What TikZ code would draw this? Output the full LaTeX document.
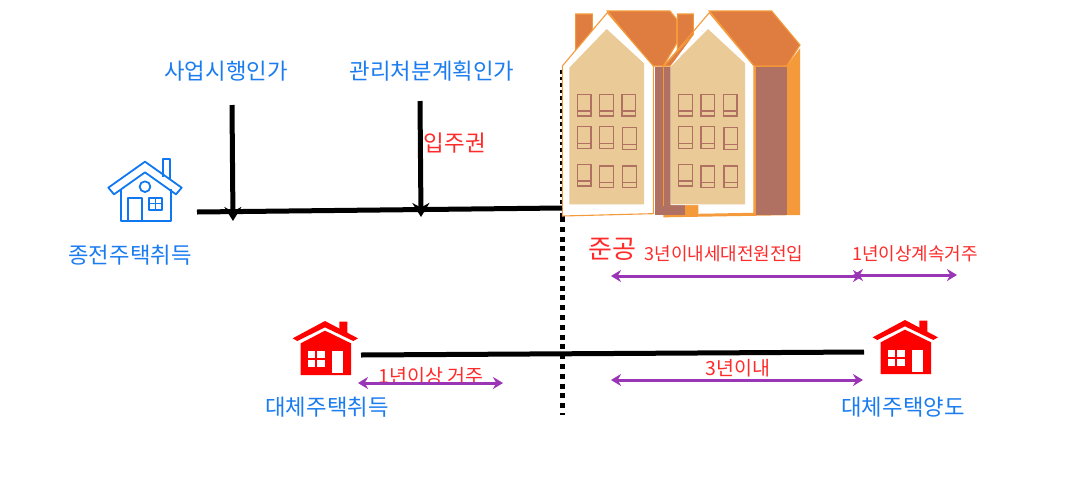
\documentclass[tikz,border=0pt]{standalone}
\usepackage{fontspec}
\setmainfont{Noto Sans CJK KR}
\usetikzlibrary{arrows.meta}
\definecolor{lblue}{HTML}{1A7CF0}
\definecolor{hblue}{HTML}{0F78F0}
\definecolor{lred}{HTML}{FF2A2A}
\definecolor{purp}{HTML}{9A35B5}
\definecolor{roof}{HTML}{DF7D40}
\definecolor{edge}{HTML}{F49A3A}
\definecolor{tan}{HTML}{EACB97}
\definecolor{brownw}{HTML}{B07062}
\tikzset{
  x=1pt,y=-1pt,
  bluelab/.style={text=lblue,font=\fontsize{22.3}{24}\selectfont,inner sep=0pt},
  redlab/.style={text=lred,font=\fontsize{18}{20}\selectfont,inner sep=0pt},
  redlabb/.style={text=lred,font=\fontsize{19.5}{21}\selectfont,inner sep=0pt},
  redbig/.style={text=lred,font=\fontsize{22.5}{24}\selectfont,inner sep=0pt},
  redjun/.style={text=lred,font=\fontsize{26}{28}\selectfont,inner sep=0pt},
  blackline/.style={line width=5pt,black},
  downarrow/.style={line width=5pt,black,-{Stealth[length=14pt,width=17pt]}},
  span/.style={line width=3pt,purp,{Stealth[length=10pt,width=12pt]}-{Stealth[length=10pt,width=12pt]}},
  dotline/.style={black,line width=5pt},
  facade/.style={fill=white,draw=edge,line width=1.1pt},
  roofp/.style={fill=roof,draw=edge,line width=1.1pt},
  winb/.style={draw=brownw,line width=1.6pt,fill=tan},
  bl/.style={draw=hblue,line width=1.8pt,line join=round,fill=none},
}
\newcommand{\winz}[2]{%
  \draw[winb] (#1,#2) rectangle ++(41,65);
  \draw[brownw,line width=1.6pt] (#1,#2+50) -- ++(41,0);
}
\newcommand{\winrows}[1]{%
  \winz{#1+82}{283}\winz{#1+149}{283}\winz{#1+216}{283}
  \winz{#1+82}{380}\winz{#1+149}{380}\winz{#1+218}{383}
  \winz{#1+82}{493}\winz{#1+149}{498}\winz{#1+218}{498}
}
\newcommand{\redhouse}[2]{%
  \begin{scope}[shift={(#1,#2)},xscale=1/3,yscale=1/3]
    \fill[red] (208,35)--(232,35)--(232,72)--(208,58)--cycle;
    \fill[red] (68,85)--(165,33)--(264,85)--(250,93)--(165,52)--(82,93)--cycle;
    \fill[red] (92,100)--(165,62)--(243,100)--(243,195)--(92,195)--cycle;
    \fill[white] (185,122) rectangle (220,188);
    \fill[white] (113,122) rectangle (165,172);
    \draw[red,line width=1.7pt] (139,122)--(139,172) (113,147)--(165,147);
  \end{scope}}
\begin{document}
\begin{tikzpicture}
\useasboundingbox (0,0) rectangle (1077,499);
\fill[white] (0,0) rectangle (1077,499);

% blue house
\begin{scope}[shift={(90,140)},xscale=1/3,yscale=1/3]
  \draw[bl] (218,110)--(218,58)--(240,58)--(240,118);
  \draw[bl] (55,143)--(165,65)--(275,143)--(258,163)--(165,97)--(72,163)--cycle;
  \draw[bl] (92,148)--(92,242)--(242,242)--(242,148);
  \draw[bl] (115,242)--(115,173)--(155,173)--(155,242);
  \draw[bl] (165,140) circle (16);
  \draw[bl] (177,173) rectangle (215,210);
  \draw[hblue,line width=1.4pt] (196,173)--(196,210) (177,191)--(215,191);
\end{scope}

% dotted line, behind the buildings
\coordinate (vs) at (562,70); \coordinate (vm) at (562,217); \coordinate (ve) at (562,415);
\draw[dotline,dash pattern=on 3.5pt off 3pt] (vs) -- (vm);
\draw[dotline,dash pattern=on 5pt off 4.8pt] (vm) -- (ve);

% buildings
\begin{scope}[shift={(550,0)},xscale=1/3,yscale=1/3]
  \fill[edge] (340,200)--(710,198)--(750,145)--(750,645)--(340,652)--cycle;
  \filldraw[roofp] (77,42)--(127,42)--(127,110)--(77,160)--cycle;
  \filldraw[roofp] (382,42)--(430,42)--(430,110)--(382,150)--cycle;
  \filldraw[roofp] (172,33)--(360,33)--(380,58)--(380,130)--(340,198)--(305,198)--cycle;
  \fill[brownw] (315,200) rectangle (405,645);
  \draw[edge,line width=1.1pt] (340,198)--(340,618);
  \fill[brownw] (617,200) rectangle (710,645);
  \filldraw[roofp] (478,33)--(665,33)--(750,135)--(710,198)--(612,198)--cycle;
  \filldraw[roofp] (340,198)--(430,105)--(445,125)--(362,198)--cycle;
  \filldraw[facade] (37,198)--(172,38)--(310,198)--(310,641)--(37,648)--cycle;
  \fill[white] (362,198)--(478,42)--(612,198)--(612,640)--(445,643)--(445,615)--(362,615)--cycle;
  \draw[edge,line width=1.1pt] (342,198)--(478,38)--(612,198)--(612,640)--(445,643);
  \fill[tan] (58,203)--(170,87)--(282,190)--(282,613)--(58,613)--cycle;
  \fill[tan] (362,200)--(474,87)--(585,190)--(585,613)--(362,613)--cycle;
  \winrows{0}
  \winrows{304}
\end{scope}

% labels
\node[bluelab] (a1) at (226,71) {사업시행인가};
\node[bluelab] (a2) at (432,71) {관리처분계획인가};
\node[bluelab] (a3) at (130,255) {종전주택취득};
\node[bluelab] (a4) at (327,407) {대체주택취득};
\node[bluelab] (a5) at (903,407) {대체주택양도};
\node[redbig] (r1) at (455,143) {입주권};
\node[redjun] (r2) at (612,249) {준공};
\node[redlab] (r3) at (724,254) {3년이내세대전원전입};
\node[redlab] (r4) at (915,254) {1년이상계속거주};
\node[redlabb] (r5) at (738,368) {3년이내};
\node[redlabb] (r6) at (431,376) {1년이상 거주};

% connector ends
\coordinate (m1s) at (197,212); \coordinate (m1e) at (562,208);
\coordinate (d1s) at (232,105); \coordinate (d1e) at (233,221);
\coordinate (d2s) at (420,101); \coordinate (d2e) at (421,217);
\coordinate (m2s) at (361,355); \coordinate (m2e) at (864,352);
\coordinate (s1a) at (611,276); \coordinate (s1b) at (863,276);
\coordinate (s2a) at (853,275); \coordinate (s2b) at (957,275);
\coordinate (s3a) at (611,380); \coordinate (s3b) at (863,380);
\coordinate (s4a) at (358,383); \coordinate (s4b) at (503,383);

\draw[blackline] (m1s) -- (m1e);
\draw[downarrow] (d1s) -- (d1e);
\draw[downarrow] (d2s) -- (d2e);
\draw[blackline] (m2s) -- (m2e);
\draw[span] (s1a) -- (s1b);
\draw[span] (s2a) -- (s2b);
\draw[span] (s3a) -- (s3b);
\draw[span] (s4a) -- (s4b);

\redhouse{270}{310}
\redhouse{850}{309}
\end{tikzpicture}
\end{document}
